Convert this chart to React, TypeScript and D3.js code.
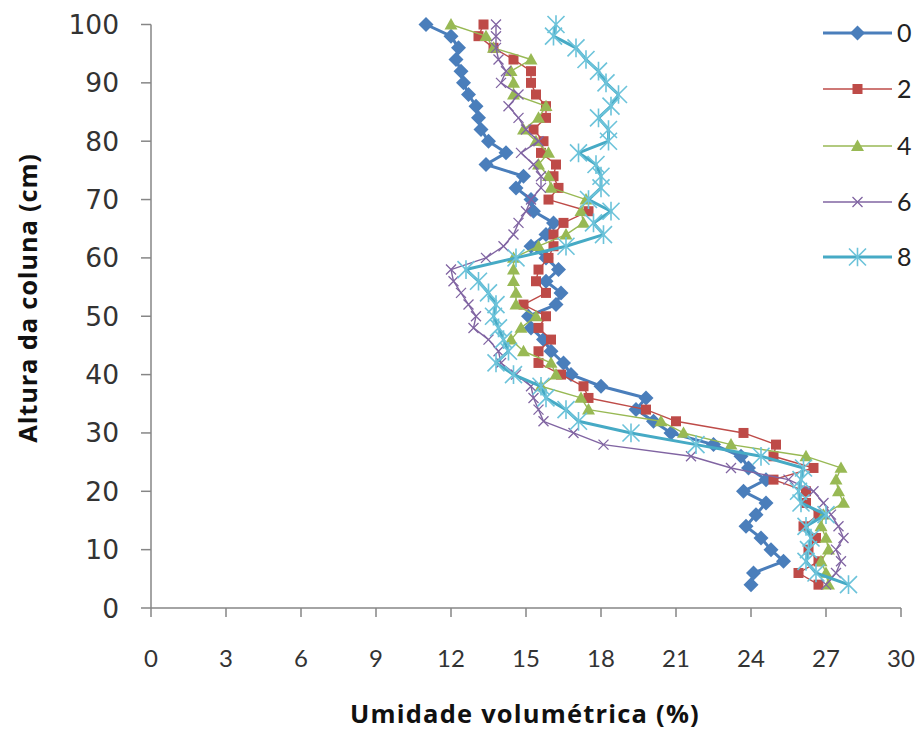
import React from "react";
import * as d3 from "d3";

const heights: number[] = [100, 98, 96, 94, 92, 90, 88, 86, 84, 82, 80, 78, 76, 74, 72, 70, 68, 66, 64, 62, 60, 58, 56, 54, 52, 50, 48, 46, 44, 42, 40, 38, 36, 34, 32, 30, 28, 26, 24, 22, 20, 18, 16, 14, 12, 10, 8, 6, 4];

const s0: number[] = [11.0, 12.0, 12.3, 12.2, 12.4, 12.5, 12.7, 13.0, 13.1, 13.2, 13.5, 14.2, 13.4, 14.9, 14.6, 15.2, 15.3, 16.1, 15.8, 15.2, 15.8, 16.3, 15.8, 16.4, 16.2, 15.1, 15.2, 15.7, 16.0, 16.5, 16.8, 18.0, 19.8, 19.4, 20.1, 20.8, 22.5, 23.6, 23.9, 24.6, 23.7, 24.6, 24.2, 23.8, 24.4, 24.8, 25.3, 24.1, 24.0];
const s2: number[] = [13.3, 13.1, 13.7, 14.5, 15.2, 15.2, 15.4, 15.8, 15.8, 15.3, 15.7, 15.6, 16.2, 16.1, 16.3, 15.9, 17.5, 16.5, 16.1, 16.1, 15.9, 15.5, 15.4, 15.8, 14.9, 15.8, 15.5, 16.0, 15.5, 15.5, 16.4, 17.3, 17.5, 19.8, 21.0, 23.7, 25.0, 24.9, 26.5, 24.9, 26.2, 26.2, 26.7, 26.1, 26.6, 26.3, 26.7, 25.9, 26.7];
const s4: number[] = [12.0, 13.4, 13.7, 15.2, 14.4, 14.5, 14.5, 15.8, 15.5, 14.9, 15.4, 15.9, 15.5, 15.9, 16.0, 17.4, 17.2, 17.3, 16.6, 15.5, 14.5, 14.5, 14.5, 14.6, 14.6, 15.4, 14.8, 14.4, 14.9, 16.0, 16.2, 15.6, 17.2, 17.5, 20.4, 21.3, 23.2, 26.2, 27.6, 27.4, 27.5, 27.7, 26.9, 26.8, 27.0, 27.1, 26.8, 27.0, 27.1];
const s6: number[] = [13.8, 13.8, 13.8, 13.9, 14.2, 14.0, 14.7, 14.3, 14.7, 15.0, 15.5, 14.8, 15.3, 15.6, 15.6, 15.2, 15.0, 14.7, 14.5, 14.1, 13.4, 12.0, 12.1, 12.4, 12.7, 13.0, 12.9, 13.5, 13.9, 14.0, 14.6, 15.2, 15.3, 15.5, 15.7, 16.9, 18.1, 21.6, 23.2, 25.5, 26.5, 26.9, 27.2, 27.5, 27.7, 27.4, 27.6, 27.4, 27.0];
const s8: number[] = [16.2, 16.1, 17.0, 17.4, 17.9, 18.2, 18.7, 18.4, 17.9, 18.3, 18.3, 17.1, 17.8, 18.0, 18.0, 17.5, 18.4, 17.7, 18.1, 16.6, 14.6, 12.6, 13.1, 13.5, 13.8, 13.7, 13.9, 14.1, 14.3, 13.8, 14.5, 15.6, 15.8, 16.6, 17.1, 19.2, 21.8, 24.4, 26.1, 26.0, 25.9, 26.0, 27.0, 26.2, 26.4, 26.3, 26.2, 26.6, 27.9];

const seriesNames: string[] = ["0", "2", "4", "6", "8"];
const xTicks: number[] = [0, 3, 6, 9, 12, 15, 18, 21, 24, 27, 30];
const yTicks: number[] = [0, 10, 20, 30, 40, 50, 60, 70, 80, 90, 100];

const seriesData = [s0, s2, s4, s6, s8];

type Style = { color: string; markerColor: string; width: number; marker: string; size: number };
const styles: Style[] = [
  { color: "#4A7EBB", markerColor: "#4A7EBB", width: 3, marker: "diamond", size: 15 },
  { color: "#BE4B48", markerColor: "#BE4B48", width: 1.4, marker: "square", size: 10 },
  { color: "#98B954", markerColor: "#98B954", width: 1.4, marker: "triangle", size: 13 },
  { color: "#8064A2", markerColor: "#8064A2", width: 1.4, marker: "x", size: 10 },
  { color: "#46AAC5", markerColor: "#6CC3DA", width: 3, marker: "star", size: 17 },
];

function Marker({ x, y, st }: { x: number; y: number; st: Style }) {
  const s = st.size;
  const h = s / 2;
  if (st.marker === "diamond") {
    return <path d={`M${x},${y - h}L${x + h},${y}L${x},${y + h}L${x - h},${y}Z`} fill={st.markerColor} />;
  }
  if (st.marker === "square") {
    return <rect x={x - h} y={y - h} width={s} height={s} fill={st.markerColor} />;
  }
  if (st.marker === "triangle") {
    return <path d={`M${x},${y - h}L${x + h},${y + h * 0.75}L${x - h},${y + h * 0.75}Z`} fill={st.markerColor} />;
  }
  if (st.marker === "x") {
    return (
      <path d={`M${x - h},${y - h}L${x + h},${y + h}M${x - h},${y + h}L${x + h},${y - h}`} stroke={st.markerColor} strokeWidth={1.3} fill="none" />
    );
  }
  return (
    <path
      d={`M${x - h},${y - h}L${x + h},${y + h}M${x - h},${y + h}L${x + h},${y - h}M${x},${y - h * 1.1}L${x},${y + h * 1.1}`}
      stroke={st.markerColor}
      strokeWidth={1.6}
      fill="none"
    />
  );
}

export default function App() {
  const W = 920;
  const H = 733;
  const x = d3.scaleLinear().domain([0, 30]).range([151, 901]);
  const y = d3.scaleLinear().domain([0, 100]).range([608, 24.5]);
  const line = d3
    .line<number>()
    .x((d) => x(d))
    .y((_, i) => y(heights[i]));

  const axisColor = "#868686";
  const legendY = [33, 89, 146, 202, 257];

  return (
    <svg width={W} height={H} style={{ position: "absolute", left: 0, top: 0, background: "#fff" }}>
      {/* axes */}
      <line x1={x(0)} x2={x(0)} y1={y(100)} y2={y(0)} stroke={axisColor} strokeWidth={1.5} />
      <line x1={x(0)} x2={x(30)} y1={y(0)} y2={y(0)} stroke={axisColor} strokeWidth={1.5} />
      {yTicks.map((t) => (
        <g key={"yt" + t}>
          <line x1={x(0) - 10} x2={x(0)} y1={y(t)} y2={y(t)} stroke={axisColor} strokeWidth={1.5} />
          <text x={119} y={y(t)} dy="0.36em" textAnchor="end" fontFamily="DejaVu Sans" fontSize={26.5} fill="#333">
            {t}
          </text>
        </g>
      ))}
      {xTicks.map((t) => (
        <g key={"xt" + t}>
          <line x1={x(t)} x2={x(t)} y1={y(0)} y2={y(0) + 9} stroke={axisColor} strokeWidth={1.5} />
          <text x={x(t)} y={667} textAnchor="middle" fontFamily="Lato" fontSize={24} fill="#333">
            {t}
          </text>
        </g>
      ))}
      <text x={525} y={723} textAnchor="middle" fontFamily="Open Sans" fontWeight="bold" fontSize={25.5} letterSpacing={1.2} fill="#111">
        Umidade volumétrica (%)
      </text>
      <text
        transform={`translate(37,298) rotate(-90)`}
        textAnchor="middle"
        fontFamily="Open Sans"
        fontWeight="bold"
        fontSize={25.5}
        letterSpacing={0.8}
        fill="#111"
      >
        Altura da coluna (cm)
      </text>

      {/* series */}
      {seriesData.map((vals, si) => {
        const st = styles[si];
        return (
          <g key={"s" + si}>
            <path d={line(vals) || ""} fill="none" stroke={st.color} strokeWidth={st.width} strokeLinejoin="round" />
            {vals.map((v, i) => (
              <Marker key={i} x={x(v)} y={y(heights[i])} st={st} />
            ))}
          </g>
        );
      })}

      {/* legend */}
      {seriesNames.map((n, i) => {
        const st = styles[i];
        return (
          <g key={"lg" + n}>
            <line x1={823} x2={892} y1={legendY[i]} y2={legendY[i]} stroke={st.color} strokeWidth={st.width} />
            <Marker x={857.5} y={legendY[i]} st={st} />
            <text x={897} y={legendY[i]} dy="0.36em" fontFamily="Lato" fontSize={25} fill="#222">
              {n}
            </text>
          </g>
        );
      })}
    </svg>
  );
}
